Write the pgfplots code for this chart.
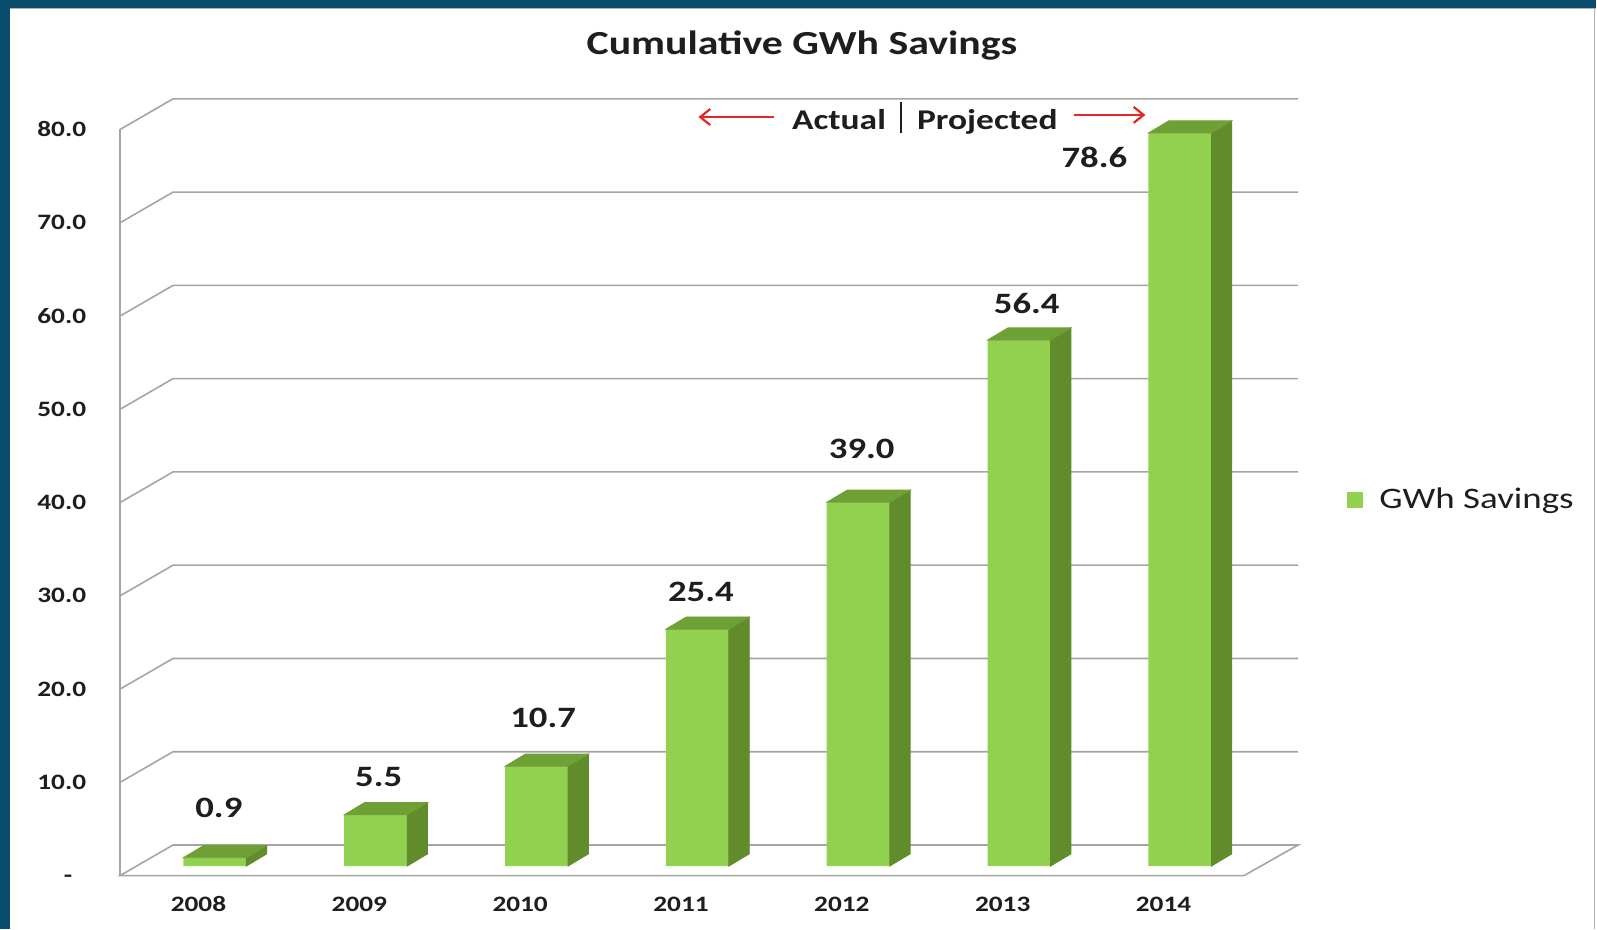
\documentclass[border=0pt]{standalone}
\usepackage{fontspec}
\setmainfont{Carlito}[FakeStretch=1.24]
\usepackage{pgfplots}
\usepackage{pgfplotstable}
\pgfplotsset{compat=1.18}
\usetikzlibrary{arrows.meta}

\definecolor{frameblue}{RGB}{9,75,108}
\definecolor{gfront}{RGB}{146,208,80}
\definecolor{gside}{RGB}{96,140,44}
\definecolor{gtop}{RGB}{110,160,54}
\definecolor{gridc}{RGB}{165,165,165}
\definecolor{txt}{RGB}{30,30,30}
\definecolor{arrred}{RGB}{228,38,38}

\pgfplotstableread{
x y dx dy lab
0 0.9 4 49.3 0.9
1 5.5 3 37.5 5.5
2 10.7 6.6 48.1 10.7
3 25.4 3.5 37 25.4
4 39.0 3.5 53.9 39.0
5 56.4 7.7 36.7 56.4
6 78.6 -85.6 -24.8 78.6
}\datatable

\begin{document}
\begin{tikzpicture}
% canvas in full-size pixels (1 px = 0.5pt), y downwards
\begin{scope}[x=0.5pt,y=-0.5pt]
  \fill[frameblue] (0,0) rectangle (1597,929);
  \fill[white] (10,8) rectangle (1597,929);
  \draw[gray!60,line width=0.6pt] (10,8.5) -- (1597,8.5);
  \draw[gray!60,line width=0.8pt] (1595,8) -- (1595,929);
  % walls and gridlines
  \foreach \v in {10,20,...,80}{
    \draw[gridc,line width=0.8pt] (120.2,{875.9-9.33*\v}) -- (173.1,{845.3-9.33*\v}) -- (1298.6,{845.3-9.33*\v});
  }
  \draw[gridc,line width=0.8pt] (120.2,875.9) -- (1244.6,875.9) -- (1298.6,845.3) -- (173.1,845.3) -- cycle;
  \draw[gridc,line width=0.8pt] (120.2,875.9) -- (120.2,{875.9-9.33*80});
  % title
  \node[anchor=base,inner sep=0pt,text=txt,font=\fontsize{16.85pt}{20pt}\selectfont\bfseries] at (802.3,55) {Cumulative GWh Savings};
  % actual / projected annotation
  \node[anchor=base west,inner sep=0pt,text=txt,font=\fontsize{14.3pt}{17pt}\selectfont\bfseries] at (792,129.3) {Actual};
  \draw[txt,line width=1.2pt] (901.4,101.8) -- (901.4,133.4);
  \node[anchor=base west,inner sep=0pt,text=txt,font=\fontsize{14.3pt}{17pt}\selectfont\bfseries] at (917,129.3) {Projected};
  \draw[arrred,line width=1.1pt,-{Straight Barb[length=5pt,width=8pt,line width=1.1pt]}] (774,117.1) -- (698.7,117.1);
  \draw[arrred,line width=1.1pt,-{Straight Barb[length=5pt,width=8pt,line width=1.1pt]}] (1074.5,115) -- (1145.8,115);
\end{scope}

\begin{axis}[
  at={(67.25pt,-433.2pt)}, anchor=south west,
  x=80.45pt, y=4.665pt,
  xmin=-0.5, xmax=6.5, ymin=0, ymax=80,
  axis line style={draw=none}, tick style={draw=none},
  clip=false,
  xtick={0,1,2,3,4,5,6},
  xticklabels={2008,2009,2010,2011,2012,2013,2014},
  ytick={0,10,20,30,40,50,60,70,80},
  yticklabels={{-\phantom{0}},10.0,20.0,30.0,40.0,50.0,60.0,70.0,80.0},
  xticklabel style={anchor=base,inner sep=0pt,xshift=-8.2pt,yshift=-22.55pt,text=txt,font=\fontsize{11pt}{13pt}\selectfont\bfseries},
  yticklabel style={anchor=base east,inner sep=0pt,xshift=-23.95pt,yshift=-8.35pt,text=txt,font=\fontsize{11pt}{13pt}\selectfont\bfseries},
  legend style={at={(1.077,0.491)},anchor=west,draw=none,fill=none,inner sep=0pt,
    font=\fontsize{14.9pt}{17pt}\selectfont,text=txt,
    /tikz/every odd column/.append style={column sep=6pt}},
  legend image code/.code={\fill[gfront] (0pt,-4pt) rectangle (8pt,4pt);},
]
% side and top faces of the 3D bars
\addplot[forget plot, scatter, only marks, mark=*, mark size=0pt,
  visualization depends on={\thisrow{y} \as \yval},
  scatter/@pre marker code/.code={%
    \pgfmathsetlengthmacro\hh{\yval*4.665pt}%
    \fill[gside] (15.75pt,0pt) -- ++(10.2pt,6.1pt) -- ++(0pt,-\hh) -- ++(-10.2pt,-6.1pt) -- cycle;
    \fill[gtop] (-15.75pt,0pt) -- ++(10.2pt,6.1pt) -- ++(31.5pt,0pt) -- ++(-10.2pt,-6.1pt) -- cycle;
    \pgfscope\pgfsetfillopacity{0}\pgfsetstrokeopacity{0}%
  },
  scatter/@post marker code/.code={\endpgfscope}
] table[x=x,y=y] {\datatable};
% front faces
\addplot[ybar, bar width=31.5pt, bar shift=0pt, fill=gfront, draw=none,
  point meta=explicit symbolic,
  nodes near coords,
  visualization depends on={\thisrow{dx} \as \ldx},
  visualization depends on={\thisrow{dy} \as \ldy},
  every node near coord/.append style={anchor=center,inner sep=0pt,text=txt,
    font=\fontsize{14.8pt}{17pt}\selectfont\bfseries,
    xshift={\ldx*0.5pt}, yshift={\ldy*0.5pt}}
] table[x=x,y=y,meta=lab] {\datatable};
\addlegendentry{GWh Savings}
\end{axis}
\end{tikzpicture}
\end{document}
